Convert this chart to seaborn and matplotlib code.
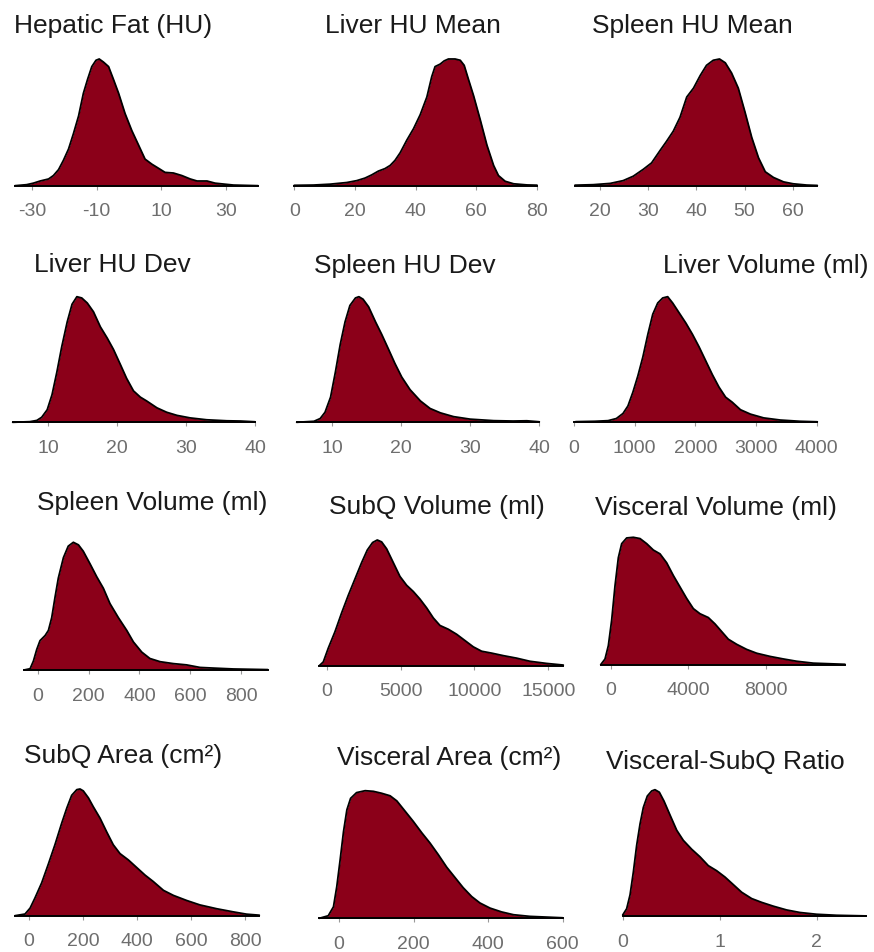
import matplotlib
matplotlib.use("Agg")
import matplotlib.pyplot as plt
import pandas as pd
import seaborn as sns

sns.set_theme(style="white")
plt.rcParams["font.family"] = ["Liberation Sans", "DejaVu Sans"]
plt.rcParams["axes.unicode_minus"] = False

# ---- density curves (x value, relative density) ----
hepatic_fat_x = [-35.3, -31.7, -29.6, -27.5, -24.9, -23.4, -21.8, -20.3, -18.7, -17.2, -15.6,
                 -14.1, -12.8, -11.5, -10.2, -9.2, -7.9, -6.3, -4.8, -3.2, -1.2, 0.9, 3.0, 5.0,
                 7.1, 9.2, 11.2, 13.8, 16.4, 19.0, 21.1, 24.2, 26.7, 29.3, 32.4, 40.0]
hepatic_fat_d = [0.0, 0.008, 0.02, 0.037, 0.053, 0.08, 0.127, 0.2, 0.29, 0.41, 0.55,
                 0.73, 0.84, 0.94, 0.99, 1.0, 0.976, 0.94, 0.84, 0.73, 0.57, 0.435, 0.32, 0.21,
                 0.17, 0.137, 0.105, 0.10, 0.08, 0.053, 0.037, 0.037, 0.02, 0.013, 0.005, 0.0]

liver_hu_mean_x = [0.0, 6.3, 11.8, 17.3, 20.6, 23.3, 25.5, 27.7, 29.9, 31.6, 33.2, 34.9, 37.1,
                   39.3, 41.5, 43.7, 45.3, 46.4, 48.1, 49.4, 50.8, 53.0, 54.7, 56.0, 57.4, 59.1,
                   61.3, 63.5, 65.7, 67.3, 69.5, 72.3, 76.7, 80.0]
liver_hu_mean_d = [0.003, 0.005, 0.012, 0.025, 0.04, 0.06, 0.085, 0.115, 0.135, 0.16, 0.2, 0.26,
                   0.36, 0.45, 0.56, 0.7, 0.86, 0.94, 0.96, 0.985, 1.0, 1.0, 0.99, 0.95, 0.84,
                   0.71, 0.52, 0.32, 0.16, 0.08, 0.035, 0.015, 0.006, 0.004]

spleen_hu_mean_x = [14.8, 18.6, 22.1, 24.8, 26.9, 29.0, 30.7, 32.5, 33.8, 35.2, 36.6, 38.0, 39.4,
                    40.8, 42.1, 43.5, 44.8, 46.0, 47.3, 48.7, 50.1, 51.5, 52.9, 54.3, 56.0, 58.1,
                    60.1, 62.9, 65.1]
spleen_hu_mean_d = [0.004, 0.008, 0.018, 0.04, 0.075, 0.13, 0.18, 0.28, 0.35, 0.43, 0.54, 0.70,
                    0.77, 0.87, 0.95, 0.99, 1.0, 0.97, 0.89, 0.77, 0.58, 0.38, 0.22, 0.11, 0.065,
                    0.03, 0.015, 0.005, 0.002]

liver_hu_dev_x = [4.9, 7.4, 8.4, 9.1, 9.9, 10.6, 11.3, 12.0, 12.8, 13.5, 14.2, 14.9, 15.7, 16.6,
                  17.6, 18.6, 19.5, 20.5, 21.4, 22.4, 23.4, 24.3, 25.8, 27.2, 28.7, 30.6, 33.0,
                  35.9, 37.9, 40.0]
liver_hu_dev_d = [0.0, 0.005, 0.015, 0.04, 0.1, 0.22, 0.4, 0.6, 0.8, 0.94, 1.0, 0.99, 0.95, 0.88,
                  0.76, 0.67, 0.58, 0.46, 0.35, 0.25, 0.2, 0.17, 0.115, 0.08, 0.055, 0.035, 0.02,
                  0.012, 0.01, 0.004]

spleen_hu_dev_x = [4.9, 7.4, 8.3, 9.0, 9.8, 10.5, 11.2, 11.9, 12.6, 13.4, 13.9, 14.5, 15.3, 16.3,
                   17.2, 18.2, 19.1, 20.1, 21.3, 22.8, 24.2, 25.7, 27.6, 30.0, 33.4, 36.2, 38.2,
                   40.0]
spleen_hu_dev_d = [0.0, 0.008, 0.03, 0.08, 0.2, 0.4, 0.62, 0.8, 0.93, 0.99, 1.0, 0.98, 0.92, 0.8,
                   0.7, 0.58, 0.47, 0.36, 0.26, 0.17, 0.11, 0.075, 0.045, 0.025, 0.013, 0.01,
                   0.012, 0.004]

liver_volume_x = [27, 344, 562, 698, 807, 889, 971, 1053, 1135, 1217, 1298, 1380, 1462, 1544,
                  1626, 1735, 1844, 1953, 2062, 2171, 2280, 2390, 2499, 2608, 2744, 2908, 3126,
                  3399, 3726, 4010]
liver_volume_d = [0.005, 0.008, 0.013, 0.03, 0.07, 0.13, 0.24, 0.37, 0.52, 0.7, 0.86, 0.95, 0.99,
                  1.0, 0.95, 0.87, 0.79, 0.7, 0.6, 0.49, 0.38, 0.28, 0.2, 0.16, 0.1, 0.065, 0.035,
                  0.018, 0.008, 0.004]

spleen_volume_x = [-54, -30, -17, -4, 9, 29, 42, 55, 68, 81, 101, 120, 140, 160, 179, 206, 232,
                   258, 284, 317, 350, 376, 409, 441, 481, 533, 585, 638, 690, 769, 904]
spleen_volume_d = [0.0, 0.01, 0.07, 0.16, 0.23, 0.27, 0.31, 0.41, 0.57, 0.72, 0.88, 0.97, 1.0,
                   0.98, 0.93, 0.83, 0.73, 0.64, 0.52, 0.41, 0.31, 0.22, 0.14, 0.09, 0.065, 0.05,
                   0.04, 0.02, 0.015, 0.008, 0.003]

subq_volume_x = [-496, -226, 113, 564, 1015, 1466, 1917, 2368, 2751, 3112, 3428, 3721, 4060,
                 4511, 4962, 5413, 5865, 6316, 6767, 7218, 7669, 8233, 8796, 9360, 9924, 10488,
                 11164, 11953, 12855, 13757, 14885, 16013]
subq_volume_d = [0.0, 0.03, 0.14, 0.27, 0.42, 0.56, 0.69, 0.82, 0.92, 0.98, 1.0, 0.985, 0.93,
                 0.82, 0.71, 0.64, 0.59, 0.53, 0.46, 0.38, 0.32, 0.29, 0.25, 0.2, 0.15, 0.115,
                 0.1, 0.08, 0.06, 0.035, 0.018, 0.005]

visceral_volume_x = [-534, -310, -138, 34, 207, 379, 552, 810, 1155, 1500, 1845, 2190, 2534,
                     2879, 3224, 3569, 3914, 4259, 4603, 5034, 5379, 5724, 6069, 6500, 7017,
                     7534, 8224, 8914, 9603, 10466, 12103]
visceral_volume_d = [0.0, 0.045, 0.15, 0.35, 0.62, 0.84, 0.95, 0.995, 1.0, 0.99, 0.95, 0.9, 0.87,
                     0.8, 0.7, 0.61, 0.52, 0.44, 0.4, 0.37, 0.32, 0.26, 0.2, 0.16, 0.12, 0.09,
                     0.065, 0.045, 0.027, 0.012, 0.003]

subq_area_x = [-52, -15, 4, 22, 47, 72, 96, 121, 140, 158, 177, 189, 201, 220, 238, 263, 288,
               312, 337, 368, 399, 430, 460, 498, 535, 584, 633, 695, 757, 806, 853]
subq_area_d = [0.0, 0.013, 0.06, 0.14, 0.26, 0.41, 0.56, 0.73, 0.85, 0.95, 0.995, 1.0, 0.985,
               0.93, 0.86, 0.77, 0.66, 0.56, 0.49, 0.44, 0.38, 0.32, 0.27, 0.2, 0.16, 0.12,
               0.085, 0.055, 0.03, 0.012, 0.004]

visceral_area_x = [-53, -29, -15, -6, 3, 12, 21, 31, 47, 70, 92, 114, 137, 155, 177, 199, 222,
                   244, 266, 289, 311, 333, 356, 378, 405, 436, 468, 512, 600]
visceral_area_d = [0.0, 0.02, 0.09, 0.25, 0.46, 0.68, 0.85, 0.94, 0.985, 1.0, 0.995, 0.98, 0.96,
                   0.92, 0.84, 0.76, 0.67, 0.59, 0.5, 0.4, 0.32, 0.24, 0.17, 0.12, 0.08, 0.05,
                   0.028, 0.015, 0.004]

vs_ratio_x = [0.0, 0.041, 0.076, 0.11, 0.144, 0.179, 0.213, 0.254, 0.299, 0.333, 0.378, 0.426,
              0.488, 0.557, 0.625, 0.711, 0.797, 0.883, 0.969, 1.055, 1.141, 1.227, 1.33, 1.433,
              1.553, 1.691, 1.828, 2.0, 2.206, 2.509]
vs_ratio_d = [0.01, 0.06, 0.17, 0.35, 0.56, 0.73, 0.86, 0.95, 0.99, 1.0, 0.98, 0.91, 0.8, 0.68,
              0.6, 0.53, 0.47, 0.4, 0.36, 0.31, 0.25, 0.19, 0.14, 0.11, 0.08, 0.05, 0.03, 0.016,
              0.008, 0.003]

titles = ["Hepatic Fat (HU)", "Liver HU Mean", "Spleen HU Mean",
          "Liver HU Dev", "Spleen HU Dev", "Liver Volume (ml)",
          "Spleen Volume (ml)", "SubQ Volume (ml)", "Visceral Volume (ml)",
          "SubQ Area (cm²)", "Visceral Area (cm²)", "Visceral-SubQ Ratio"]

tick_values = [[-30, -10, 10, 30], [0, 20, 40, 60, 80], [20, 30, 40, 50, 60],
               [10, 20, 30, 40], [10, 20, 30, 40], [0, 1000, 2000, 3000, 4000],
               [0, 200, 400, 600, 800], [0, 5000, 10000, 15000], [0, 4000, 8000],
               [0, 200, 400, 600, 800], [0, 200, 400, 600], [0, 1, 2]]

curves = [(hepatic_fat_x, hepatic_fat_d), (liver_hu_mean_x, liver_hu_mean_d),
          (spleen_hu_mean_x, spleen_hu_mean_d), (liver_hu_dev_x, liver_hu_dev_d),
          (spleen_hu_dev_x, spleen_hu_dev_d), (liver_volume_x, liver_volume_d),
          (spleen_volume_x, spleen_volume_d), (subq_volume_x, subq_volume_d),
          (visceral_volume_x, visceral_volume_d), (subq_area_x, subq_area_d),
          (visceral_area_x, visceral_area_d), (vs_ratio_x, vs_ratio_d)]

# ---- panel placement in pixels: left, right, baseline, peak, title centre x, title baseline y ----
W, H = 874, 953
layout = [
    (15.0, 258.0, 186.7, 60.0, 113.0, 33.0),
    (294.3, 537.0, 186.7, 60.0, 413.0, 33.0),
    (575.0, 817.3, 186.7, 60.0, 692.5, 33.0),
    (12.7, 255.0, 423.3, 297.7, 112.7, 272.5),
    (296.7, 539.3, 423.3, 297.7, 405.0, 272.5),
    (574.0, 817.3, 423.3, 297.7, 765.8, 272.5),
    (24.0, 267.7, 671.0, 543.3, 151.7, 510.0),
    (319.3, 563.3, 666.7, 541.0, 436.7, 514.0),
    (600.7, 845.0, 665.7, 538.3, 715.8, 515.0),
    (15.0, 259.3, 916.7, 790.0, 123.3, 763.3),
    (319.3, 562.7, 919.3, 791.7, 449.0, 765.0),
    (622.7, 866.0, 917.3, 790.7, 725.8, 769.0),
]

FILL = "#8B0019"
TOP = 1.03

fig = plt.figure(figsize=(W / 100, H / 100), dpi=100)

for (xs, ds), title, ticks, (left, right, base, peak, tx, ty) in zip(curves, titles, tick_values, layout):
    h = (base - peak) * TOP
    ax = fig.add_axes([left / W, 1 - base / H, (right - left) / W, h / H])
    df = pd.DataFrame({"x": xs, "density": ds})
    ax.fill_between(df["x"], 0, df["density"], color=FILL, linewidth=0)
    sns.lineplot(data=df, x="x", y="density", color="black", linewidth=1.3,
                 estimator=None, sort=False, ax=ax)
    ax.lines[-1].set_solid_joinstyle("round")
    ax.lines[-1].set_clip_on(False)
    ax.set_xlim(xs[0], xs[-1])
    ax.set_ylim(0, TOP)
    ax.set_xticks(ticks)
    ax.set_xticklabels([str(t) for t in ticks])
    ax.set_yticks([])
    ax.set_xlabel("")
    ax.set_ylabel("")
    for side in ("top", "left", "right"):
        ax.spines[side].set_visible(False)
    ax.spines["bottom"].set_color("black")
    ax.spines["bottom"].set_linewidth(1.4)
    ax.tick_params(axis="x", bottom=True, direction="out", length=3, width=0.8,
                   color="#999999", pad=9, labelsize=14, labelcolor="#6e6e6e")
    ax.set_facecolor("none")
    fig.text(tx / W, 1 - ty / H, title, ha="center", va="baseline",
             fontsize=19, color="#1a1a1a")

fig.savefig("out.png", dpi=100, facecolor="white")
